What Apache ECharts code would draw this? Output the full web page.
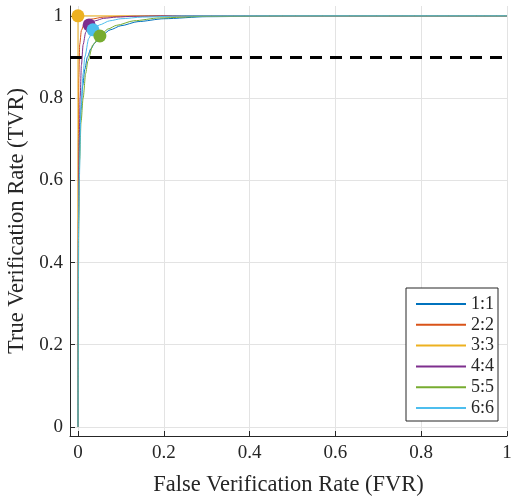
<!DOCTYPE html>
<html>
<head>
<meta charset="utf-8">
<script src="https://cdn.jsdelivr.net/npm/echarts@6/dist/echarts.min.js"></script>
<style>html,body{margin:0;padding:0;background:#fff;}#c{width:512px;height:498px;}</style>
</head>
<body>
<div id="c"></div>
<script>
const seriesNames = ['1:1', '2:2', '3:3', '4:4', '5:5', '6:6'];
const seriesColors = ['#0072BD', '#D95319', '#EDB120', '#7E2F8E', '#77AC30', '#4DBEEE'];

const fvr1 = [0, 0.001, 0.002, 0.004, 0.007, 0.011, 0.016, 0.022, 0.03, 0.04, 0.055, 0.075, 0.1, 0.14, 0.2, 0.3, 0.5, 1];
const tvr1 = [0, 0.45, 0.6, 0.7, 0.77, 0.83, 0.87, 0.9, 0.92, 0.935, 0.952, 0.966, 0.976, 0.986, 0.993, 0.998, 1, 1];
const fvr2 = [0, 0.001, 0.002, 0.004, 0.008, 0.015, 0.03, 0.06, 0.1, 0.2, 1];
const tvr2 = [0, 0.7, 0.85, 0.93, 0.965, 0.982, 0.992, 0.997, 0.999, 1, 1];
const fvr3 = [0, 0, 1];
const tvr3 = [0, 1, 1];
const fvr4 = [0, 0.001, 0.003, 0.005, 0.008, 0.012, 0.018, 0.026, 0.04, 0.06, 0.09, 0.13, 0.2, 1];
const tvr4 = [0, 0.5, 0.7, 0.8, 0.88, 0.93, 0.96, 0.978, 0.988, 0.994, 0.997, 0.999, 1, 1];
const fvr5 = [0, 0.002, 0.004, 0.007, 0.012, 0.018, 0.023, 0.035, 0.051, 0.07, 0.09, 0.13, 0.19, 0.3, 0.5, 1];
const tvr5 = [0, 0.5, 0.65, 0.74, 0.8, 0.86, 0.89, 0.93, 0.951, 0.968, 0.977, 0.988, 0.995, 0.999, 1, 1];
const fvr6 = [0, 0.001, 0.003, 0.007, 0.012, 0.016, 0.025, 0.035, 0.05, 0.074, 0.1, 0.15, 0.25, 1];
const tvr6 = [0, 0.45, 0.6, 0.78, 0.86, 0.9, 0.945, 0.966, 0.978, 0.988, 0.993, 0.997, 1, 1];

const markerSeries = ['3:3', '4:4', '6:6', '5:5'];
const markerFVR = [0, 0.026, 0.035, 0.051];
const markerTVR = [1, 0.978, 0.966, 0.951];

const thresholdTVR = 0.9;
const tickValues = [0, 0.2, 0.4, 0.6, 0.8, 1];
const xRange = [-0.0186, 1];
const yRange = [-0.022, 1.024];

const fvrs = [fvr1, fvr2, fvr3, fvr4, fvr5, fvr6];
const tvrs = [tvr1, tvr2, tvr3, tvr4, tvr5, tvr6];

const FONT = 'Liberation Serif';
const TXT = '#262626';

const series = seriesNames.map((name, i) => {
  const s = {
    name: name,
    type: 'line',
    data: fvrs[i].map((x, k) => [x, tvrs[i][k]]),
    showSymbol: false,
    symbol: 'none',
    smooth: i === 2 ? false : 0.25,
    smoothMonotone: 'x',
    lineStyle: { color: seriesColors[i], width: 1 },
    itemStyle: { color: seriesColors[i] },
    z: 2 + i,
    animation: false
  };
  if (i === 0) {
    s.markLine = {
      silent: true,
      symbol: 'none',
      label: { show: false },
      lineStyle: { color: '#000', width: 3, type: [12, 8] },
      data: [{ yAxis: thresholdTVR }],
      animation: false
    };
  }
  return s;
});

markerSeries.forEach((name, j) => {
  const idx = seriesNames.indexOf(name);
  series.push({
    name: 'op ' + name,
    type: 'scatter',
    data: [[markerFVR[j], markerTVR[j]]],
    symbol: 'circle',
    symbolSize: 13,
    itemStyle: { color: seriesColors[idx], opacity: 1 },
    z: 20 + j,
    animation: false
  });
});

const chart = echarts.init(document.getElementById('c'), null, { renderer: 'canvas' });
chart.setOption({
  backgroundColor: '#fff',
  animation: false,
  textStyle: { fontFamily: FONT, color: TXT },
  grid: { left: 70, right: 5, top: 6, bottom: 62, containLabel: false, outerBoundsMode: 'none' },
  xAxis: {
    type: 'value',
    min: xRange[0], max: xRange[1],
    name: 'False Verification Rate (FVR)',
    nameLocation: 'middle',
    nameGap: 38,
    nameTextStyle: { fontFamily: FONT, fontSize: 22.5, color: TXT },
    axisLine: { show: true, onZero: false, lineStyle: { color: TXT, width: 1 } },
    axisTick: { show: true, inside: true, length: 5, customValues: tickValues, lineStyle: { color: TXT } },
    axisLabel: { customValues: tickValues, fontFamily: FONT, fontSize: 19, color: TXT, margin: 8, formatter: v => String(+v.toFixed(2)) },
    splitLine: { show: true, lineStyle: { color: '#e3e3e3', width: 1 } }
  },
  yAxis: {
    type: 'value',
    min: yRange[0], max: yRange[1],
    name: 'True Verification Rate (TVR)',
    nameLocation: 'middle',
    nameGap: 34,
    nameTextStyle: { fontFamily: FONT, fontSize: 22.5, color: TXT },
    axisLine: { show: true, onZero: false, lineStyle: { color: TXT, width: 1 } },
    axisTick: { show: true, inside: true, length: 5, customValues: tickValues, lineStyle: { color: TXT } },
    axisLabel: { customValues: tickValues, fontFamily: FONT, fontSize: 19, color: TXT, margin: 7, formatter: v => String(+v.toFixed(2)) },
    splitLine: { show: true, lineStyle: { color: '#e3e3e3', width: 1 } }
  },
  legend: {
    data: seriesNames,
    orient: 'vertical',
    left: 406, top: 288,
    icon: 'rect',
    itemWidth: 50,
    itemHeight: 2,
    itemGap: 2.8,
    padding: [7, 4, 4, 10],
    backgroundColor: '#fff',
    borderColor: TXT,
    borderWidth: 1,
    borderRadius: 0,
    itemStyle: { borderWidth: 0 },
    textStyle: { fontFamily: FONT, fontSize: 18, color: TXT, lineHeight: 17, padding: [0, 0, 0, 0] }
  },
  series: series
});
</script>
</body>
</html>
